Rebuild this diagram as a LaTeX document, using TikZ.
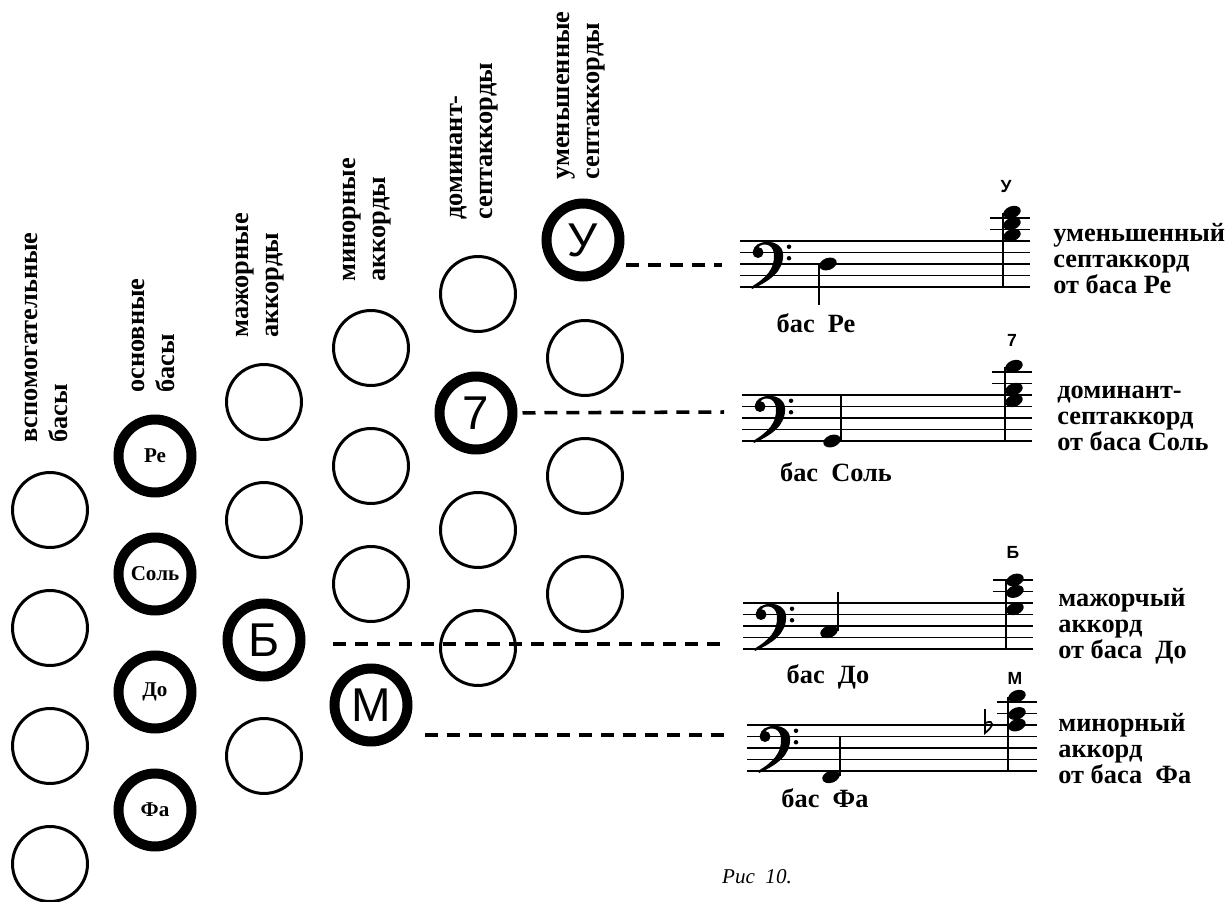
\documentclass[tikz,border=0pt]{standalone}
\usepackage{fontspec}
\setmainfont{Liberation Serif}
\newfontfamily\grotesk{Liberation Sans}
\usetikzlibrary{calc,positioning}

\begin{document}
\begin{tikzpicture}
	[   x=0.02cm, y=-0.02cm,
	    knopka/.style={draw=black,circle,line width=1.7pt,minimum size=1.5cm,inner sep=0pt},
	    osnova/.style={knopka,line width=5.7pt,minimum size=1.46cm,font=\fontsize{12}{12}\selectfont\bfseries},
	    akkord/.style={knopka,line width=5.7pt,minimum size=1.46cm,font=\grotesk\fontsize{27}{27}\selectfont},
	    ryad/.style={rotate=90,anchor=west,align=left,inner sep=0pt,font=\fontsize{15}{17}\selectfont\bfseries},
	    podpis/.style={anchor=west,align=left,inner sep=0pt,font=\fontsize{15}{14.8}\selectfont\bfseries},
	    bas/.style={inner sep=0pt,font=\fontsize{15}{15}\selectfont\bfseries},
	    znak/.style={inner sep=0pt,font=\grotesk\bfseries\fontsize{10}{10}\selectfont},
	]
	\tikzset{punktir/.style={draw,line width=2pt,dash pattern=on 0.26cm off 0.18cm}}
	\tikzset{golovka/.style={x radius=0.18cm,y radius=0.12cm,rotate=20}}
	\useasboundingbox (0,0) rectangle (1228,902);
	
	\foreach \c/\t/\y in {0/{вспомогательные\\басы}/443,1/{основные\\басы}/393,2/{мажорные\\аккорды}/338,
	                      3/{минорные\\аккорды}/282,4/{доминант-\\септаккорды}/220,5/{уменьшенные\\септаккорды}/180}
		\node[ryad] (r-\c) at ({46+107*\c},\y) {\t};
	
	\foreach \c/\z in {0/9,2/2,3/3,4/1,5/0}
	\foreach \r in {0,...,3}
	{
		\ifnum \r = \z
		\else
		\node[knopka] (b-\c-\r) at ({50+107*\c},{510-54*\c+118*\r}) {};
		\fi
	}
	\foreach \r/\t in {0/Ре,1/Соль,2/До,3/Фа}
		\node[osnova] (b-1-\r) at (155,{456+118*\r}) {\t};
	\node[akkord] (b-2-2) at (264,640) {Б};
	\node[akkord] (b-3-3) at (371,705) {М};
	\node[akkord] (b-4-1) at (476,413) {7};
	\node[akkord] (b-5-0) at (583,240) {У};
	
	\foreach \n/\sx/\sy/\ky in {1/740/241/24,2/742/395/17,3/743/603/41,4/747/725/10}
	{
		\begin{scope}[shift={(\sx,\sy)}]
			\foreach \l in {0,1,2,3,4}
				\draw[line width=1.1pt] (0,{11.5*\l}) -- (290,{11.5*\l});
			\draw[line width=1.1pt] (250,-11.5) -- (290,-11.5) (250,-23) -- (290,-23);
			\fill (18,11.5) circle [radius=0.11cm];
			\fill (13,11) .. controls (13,-2) and (42,-4) .. (43,13) .. controls (44,30) and (30,40) .. (12,48)
			      -- (11,46) .. controls (26,37) and (35,28) .. (34,13) .. controls (33,1) and (19,1) .. (17,9) -- cycle;
			\fill (49,5.75) circle [radius=0.045cm] (49,17.25) circle [radius=0.045cm];
			\coordinate (konec-\n) at (-18,\ky);
		\end{scope}
	}
	
	\begin{scope}[shift={(740,241)}]
		\fill (88,23) ellipse [golovka];
		\draw[line width=1.2pt] (79,24) -- (79,64);
		\foreach \h in {-5.75,-17.25,-28.75}
			\fill (272,\h) ellipse [golovka];
		\draw[line width=1.2pt] (263,-28) -- (263,46);
		\node[znak] (z-1) at (266,-54) {У};
		\node[bas] (bas-1) at (76,82) {бас\ \ Ре};
		\node[podpis] (t-1) at (313,18) {уменьшенный\\септаккорд\\от баса Ре};
	\end{scope}
	
	\begin{scope}[shift={(742,395)}]
		\fill (90,46) ellipse [golovka];
		\draw[line width=1.2pt] (99,45) -- (99,0);
		\foreach \h in {5.75,-5.75,-28.75}
			\fill (272,\h) ellipse [golovka];
		\draw[line width=1.2pt] (263,-28) -- (263,46);
		\node[znak] (z-2) at (270,-55) {7};
		\node[bas] (bas-2) at (94,77) {бас\ \ Соль};
		\node[podpis] (t-2) at (315,23) {доминант-\\септаккорд\\от баса Соль};
	\end{scope}
	
	\begin{scope}[shift={(743,603)}]
		\fill (86,28.75) ellipse [golovka];
		\draw[line width=1.2pt] (95,28) -- (95,-11);
		\foreach \h in {5.75,-11.5,-23}
			\fill (272,\h) ellipse [golovka];
		\draw[line width=1.2pt] (263,-23) -- (263,46);
		\node[znak] (z-3) at (270,-51) {Б};
		\node[bas] (bas-3) at (85,74) {бас\ \ До};
		\node[podpis] (t-3) at (315,23) {мажорчый\\аккорд\\от баса\ \ До};
	\end{scope}
	
	\begin{scope}[shift={(747,725)}]
		\fill (84,51.75) ellipse [golovka];
		\draw[line width=1.2pt] (93,51) -- (93,11.5);
		\foreach \h in {0,-11.5,-28.75}
			\fill (270,\h) ellipse [golovka];
		\draw[line width=1.2pt] (261,-28) -- (261,46);
		\draw[line width=1pt] (238,-16) -- (238,8) .. controls (246,2) and (249,-6) .. (238,-2);
		\node[znak] (z-4) at (268,-47) {М};
		\node[bas] (bas-4) at (78,73) {бас\ \ Фа};
		\node[podpis] (t-4) at (311,24) {минорный\\аккорд\\от баса\ \ Фа};
	\end{scope}
	
	\path[punktir,shorten <=0.03cm] (b-5-0.east |- konec-1) -- (konec-1);
	\path[punktir,shorten <=0.1cm] (b-4-1) -- (konec-2);
	\path[punktir,shorten <=0.55cm] (b-2-2.east |- konec-3) -- (konec-3);
	\path[punktir,shorten <=0.25cm] (b-3-3.east |- konec-4) -- (konec-4);
	
	\node[font=\itshape\fontsize{12}{12}\selectfont] (ris) at (757,877) {Рис\ \ 10.};
\end{tikzpicture}
\end{document}
